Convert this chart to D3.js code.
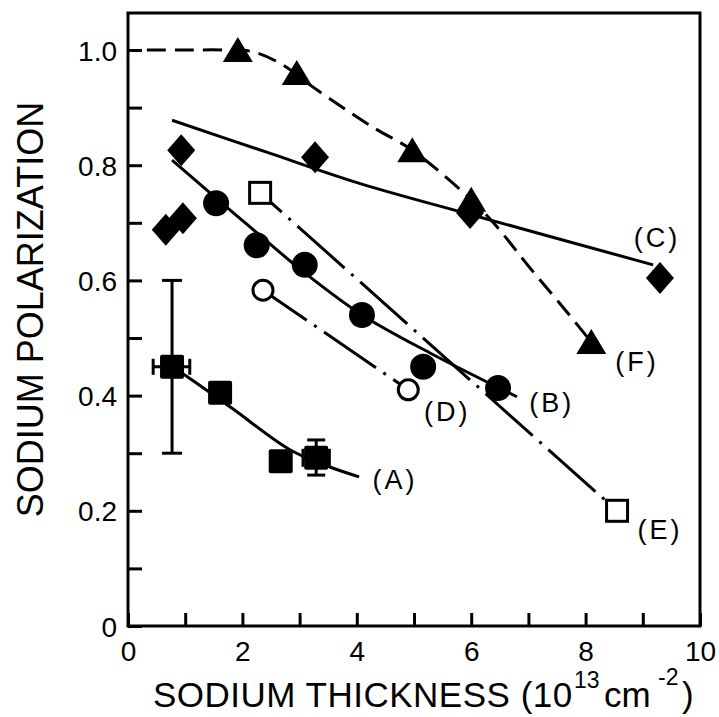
<!DOCTYPE html>
<html>
<head>
<meta charset="utf-8">
<script src="https://cdn.jsdelivr.net/npm/d3@7"></script>
<style>
  html, body { margin: 0; padding: 0; background: #fff; }
  svg { display: block; }
  text { font-family: "Liberation Sans", Arial, sans-serif; fill: #000; }
</style>
</head>
<body>
<svg id="chart" width="719" height="717"></svg>
<script>
// ---------- data ----------
const xTickValues = [0, 2, 4, 6, 8, 10];
const xTickLabels = ["0", "2", "4", "6", "8", "10"];
const yTickValues = [0, 0.2, 0.4, 0.6, 0.8, 1.0];
const yTickLabels = ["0", "0.2", "0.4", "0.6", "0.8", "1.0"];
const xMinorTicks = [1, 3, 5, 7, 9];
const yMinorTicks = [0.1, 0.3, 0.5, 0.7, 0.9];

// (A) filled squares
const pointsA = [[0.77, 0.45], [1.61, 0.405], [2.67, 0.286], [3.29, 0.292]];
const errorsA = [
  { x: 0.77, y: 0.45, ylo: 0.30, yhi: 0.60, xlo: 0.44, xhi: 1.08 },
  { x: 3.29, y: 0.292, ylo: 0.262, yhi: 0.323, xlo: 3.06, xhi: 3.52 }
];
const curveA = [[0.77, 0.45], [1.05, 0.432], [1.82, 0.378], [2.83, 0.306], [3.53, 0.276], [4.04, 0.259]];

// (B) filled circles
const pointsB = [[1.54, 0.734], [2.25, 0.661], [3.09, 0.627], [4.09, 0.54], [5.16, 0.45], [6.47, 0.413]];
const curveB = [[0.77, 0.809], [1.54, 0.743], [2.25, 0.683], [3.09, 0.613], [4.09, 0.54], [5.28, 0.474], [6.8, 0.398]];

// (C) filled diamonds
const pointsC = [[0.66, 0.688], [0.96, 0.708], [0.93, 0.826], [3.27, 0.814], [5.98, 0.717], [9.3, 0.604]];
const curveC = [[0.77, 0.878], [2.5, 0.82], [4.06, 0.768], [6.0, 0.714], [9.18, 0.627]];

// (D) open circles
const pointsD = [[2.36, 0.583], [4.90, 0.41]];
const curveD = [[2.36, 0.583], [4.90, 0.41]];

// (E) open squares
const pointsE = [[2.31, 0.752], [8.55, 0.2]];
const curveE = [[2.31, 0.752], [8.55, 0.2]];

// (F) filled triangles
const pointsF = [[1.92, 1.0], [2.95, 0.96], [4.97, 0.826], [6.0, 0.74], [8.1, 0.493]];
const curveF = [[0.33, 1.0], [1.0, 1.0], [1.7, 1.0], [2.18, 0.997], [2.71, 0.974], [3.23, 0.936],
                [4.28, 0.866], [4.97, 0.826], [6.0, 0.74], [6.45, 0.693], [7.0, 0.625], [7.55, 0.56], [8.1, 0.493]];

// curve labels: [label, x, y] in data units
const curveLabels = [
  ["(A)", 4.67, 0.253],
  ["(B)", 7.41, 0.388],
  ["(C)", 9.25, 0.674],
  ["(D)", 5.58, 0.372],
  ["(E)", 9.3, 0.167],
  ["(F)", 8.9, 0.458]
];

// ---------- layout ----------
const svg = d3.select("#chart");
const x = d3.scaleLinear().domain([0, 10]).range([128, 700]);
const y = d3.scaleLinear().domain([0, 1]).range([626, 50]);
const topY = 13;
const SW = 3;

// frame
svg.append("rect")
  .attr("x", x(0)).attr("y", topY)
  .attr("width", x(10) - x(0)).attr("height", y(0) - topY)
  .attr("fill", "none").attr("stroke", "#000").attr("stroke-width", SW);

// axes with inward ticks
const xAxis = d3.axisBottom(x).tickValues(xTickValues.concat(xMinorTicks))
  .tickSize(-13).tickPadding(20)
  .tickFormat(d => { const i = xTickValues.indexOf(d); return i >= 0 ? xTickLabels[i] : ""; });
const gx = svg.append("g").attr("transform", `translate(0,${y(0)})`).call(xAxis);
gx.select(".domain").remove();
gx.selectAll(".tick line").attr("stroke", "#000").attr("stroke-width", SW);
gx.selectAll(".tick text").attr("font-size", 28).attr("font-family", "Liberation Sans, Arial, sans-serif")
  .attr("y", 35).attr("dy", 0);

const yAxis = d3.axisLeft(y).tickValues(yTickValues.concat(yMinorTicks))
  .tickSize(-14).tickPadding(11)
  .tickFormat(d => { const i = yTickValues.findIndex(v => Math.abs(v - d) < 1e-9); return i >= 0 ? yTickLabels[i] : ""; });
const gy = svg.append("g").attr("transform", `translate(${x(0)},0)`).call(yAxis);
gy.select(".domain").remove();
gy.selectAll(".tick line").attr("stroke", "#000").attr("stroke-width", SW);
gy.selectAll(".tick text").attr("font-size", 28).attr("font-family", "Liberation Sans, Arial, sans-serif")
  .attr("x", -11).attr("dy", "0.36em");

// axis titles
svg.append("text")
  .attr("transform", `translate(43,${(97 + 522) / 2}) rotate(-90)`)
  .attr("text-anchor", "middle")
  .attr("font-size", 36)
  .text("SODIUM POLARIZATION");

const xt = svg.append("text").attr("y", 707).attr("font-size", 35);
xt.append("tspan").attr("x", 153).attr("letter-spacing", 0.5).text("SODIUM THICKNESS (10");
xt.append("tspan").attr("x", 574).attr("y", 688).attr("font-size", 23).text("13");
xt.append("tspan").attr("x", 604).attr("y", 707).text("cm");
xt.append("tspan").attr("x", 658).attr("y", 685).attr("font-size", 23).text("-2");
xt.append("tspan").attr("x", 682).attr("y", 707).text(")");

// ---------- curves ----------
const line = d3.line().x(d => x(d[0])).y(d => y(d[1])).curve(d3.curveCatmullRom.alpha(0.5));
const straight = d3.line().x(d => x(d[0])).y(d => y(d[1]));
const curves = svg.append("g").attr("fill", "none").attr("stroke", "#000").attr("stroke-width", SW);
curves.append("path").attr("d", line(curveA));
curves.append("path").attr("d", line(curveB));
curves.append("path").attr("d", line(curveC));
curves.append("path").attr("d", line(curveF)).attr("stroke-dasharray", "19,9");
curves.append("path").attr("d", straight(curveD)).attr("stroke-dasharray", "63,9,3,9").attr("stroke-dashoffset", 10);
curves.append("path").attr("d", straight(curveE)).attr("stroke-dasharray", "63,9,3,9").attr("stroke-dashoffset", 34);

// ---------- error bars ----------
const eb = svg.append("g").attr("stroke", "#000").attr("stroke-width", SW).attr("fill", "none");
errorsA.forEach((e, i) => {
  const capW = i === 0 ? 10 : 9;
  const capH = i === 0 ? 8 : 9;
  eb.append("line").attr("x1", x(e.x)).attr("x2", x(e.x)).attr("y1", y(e.ylo)).attr("y2", y(e.yhi));
  eb.append("line").attr("x1", x(e.x) - capW).attr("x2", x(e.x) + capW).attr("y1", y(e.ylo)).attr("y2", y(e.ylo));
  eb.append("line").attr("x1", x(e.x) - capW).attr("x2", x(e.x) + capW).attr("y1", y(e.yhi)).attr("y2", y(e.yhi));
  eb.append("line").attr("x1", x(e.xlo)).attr("x2", x(e.xhi)).attr("y1", y(e.y)).attr("y2", y(e.y));
  eb.append("line").attr("x1", x(e.xlo)).attr("x2", x(e.xlo)).attr("y1", y(e.y) - capH).attr("y2", y(e.y) + capH);
  eb.append("line").attr("x1", x(e.xhi)).attr("x2", x(e.xhi)).attr("y1", y(e.y) - capH).attr("y2", y(e.y) + capH);
});

// ---------- markers ----------
const mk = svg.append("g");
// A: filled squares
mk.selectAll(".sqA").data(pointsA).join("rect")
  .attr("x", d => x(d[0]) - 12).attr("y", d => y(d[1]) - 12)
  .attr("width", 24).attr("height", 24).attr("rx", 2).attr("fill", "#000");
// B: filled circles
mk.selectAll(".cB").data(pointsB).join("circle")
  .attr("cx", d => x(d[0])).attr("cy", d => y(d[1])).attr("r", 13).attr("fill", "#000");
// C: diamonds
mk.selectAll(".dC").data(pointsC).join("path")
  .attr("d", d => { const cx = x(d[0]), cy = y(d[1]);
    return `M${cx},${cy - 16}L${cx + 14},${cy}L${cx},${cy + 16}L${cx - 14},${cy}Z`; })
  .attr("fill", "#000");
// D: open circles
mk.selectAll(".cD").data(pointsD).join("circle")
  .attr("cx", d => x(d[0])).attr("cy", d => y(d[1])).attr("r", 10)
  .attr("fill", "#fff").attr("stroke", "#000").attr("stroke-width", SW);
// E: open squares
mk.selectAll(".sE").data(pointsE).join("rect")
  .attr("x", d => x(d[0]) - 10.5).attr("y", d => y(d[1]) - 10.5)
  .attr("width", 21).attr("height", 21)
  .attr("fill", "#fff").attr("stroke", "#000").attr("stroke-width", SW);
// F: triangles
mk.selectAll(".tF").data(pointsF).join("path")
  .attr("d", d => { const cx = x(d[0]), cy = y(d[1]);
    return `M${cx},${cy - 13}L${cx + 15},${cy + 12}L${cx - 15},${cy + 12}Z`; })
  .attr("fill", "#000");

// ---------- labels ----------
svg.append("g").selectAll("text").data(curveLabels).join("text")
  .attr("x", d => x(d[1])).attr("y", d => y(d[2]))
  .attr("text-anchor", "middle").attr("dominant-baseline", "central")
  .attr("font-size", 27).attr("letter-spacing", 3)
  .text(d => d[0]);
</script>
</body>
</html>
